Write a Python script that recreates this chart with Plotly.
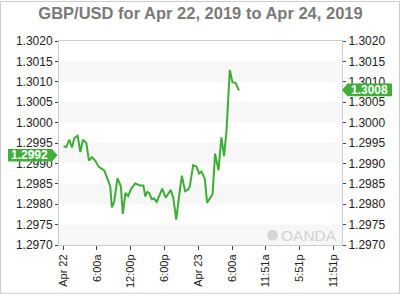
import plotly.graph_objects as go

# ---- data ----
times = [
    "2019-04-22 00:06", "2019-04-22 00:35", "2019-04-22 01:07", "2019-04-22 01:35",
    "2019-04-22 02:00", "2019-04-22 02:35", "2019-04-22 03:03", "2019-04-22 03:32",
    "2019-04-22 04:07", "2019-04-22 04:35", "2019-04-22 05:07", "2019-04-22 05:42",
    "2019-04-22 06:17", "2019-04-22 06:53", "2019-04-22 07:17", "2019-04-22 07:52",
    "2019-04-22 08:21", "2019-04-22 08:39", "2019-04-22 09:03", "2019-04-22 09:38",
    "2019-04-22 10:14", "2019-04-22 10:35", "2019-04-22 11:03", "2019-04-22 11:31",
    "2019-04-22 12:00", "2019-04-22 12:45", "2019-04-22 13:38", "2019-04-22 14:13",
    "2019-04-22 14:34", "2019-04-22 14:55", "2019-04-22 15:16", "2019-04-22 15:42",
    "2019-04-22 16:06", "2019-04-22 16:35", "2019-04-22 17:02", "2019-04-22 17:34",
    "2019-04-22 18:10", "2019-04-22 19:03", "2019-04-22 19:31", "2019-04-22 20:02",
    "2019-04-22 20:34", "2019-04-22 21:02", "2019-04-22 21:37", "2019-04-22 22:09",
    "2019-04-22 22:27", "2019-04-22 23:02", "2019-04-22 23:38", "2019-04-23 00:05",
    "2019-04-23 00:31", "2019-04-23 01:06", "2019-04-23 01:30", "2019-04-23 02:28",
    "2019-04-23 02:55", "2019-04-23 03:31", "2019-04-23 04:02", "2019-04-23 04:30",
    "2019-04-23 04:55", "2019-04-23 05:31", "2019-04-23 05:59", "2019-04-23 06:34",
    "2019-04-23 07:08",
]
prices = [
    1.29942, 1.29940, 1.29958, 1.29939,
    1.29962, 1.29968, 1.29928, 1.29958,
    1.29950, 1.29907, 1.29915, 1.29907,
    1.29892, 1.29886, 1.29883, 1.29862,
    1.29844, 1.29792, 1.29806, 1.29864,
    1.29844, 1.29776, 1.29828, 1.29820,
    1.29836, 1.29851, 1.29846, 1.29846,
    1.29819, 1.29830, 1.29827, 1.29812,
    1.29814, 1.29806, 1.29822, 1.29838,
    1.29816, 1.29835, 1.29816, 1.29762,
    1.29822, 1.29870, 1.29832, 1.29836,
    1.29844, 1.29896, 1.29892, 1.29875,
    1.29880, 1.29862, 1.29804, 1.29824,
    1.29924, 1.29883, 1.29964, 1.29918,
    1.29976, 1.30129, 1.30099, 1.30097,
    1.30079,
]

x_tick_vals = [
    "2019-04-22 00:00", "2019-04-22 06:00", "2019-04-22 12:00", "2019-04-22 18:00",
    "2019-04-23 00:00", "2019-04-23 06:00", "2019-04-23 11:51", "2019-04-23 17:51",
    "2019-04-23 23:51",
]
x_tick_text = ["Apr 22", "6:00a", "12:00p", "6:00p", "Apr 23", "6:00a", "11:51a", "5:51p", "11:51p"]
x_range = ["2019-04-21 23:17", "2019-04-24 01:23"]

y_tick_vals = [1.2970, 1.2975, 1.2980, 1.2985, 1.2990, 1.2995, 1.3000, 1.3005, 1.3010, 1.3015, 1.3020]
y_range = [1.2970, 1.3020]
band_starts = [1.2970, 1.2980, 1.2990, 1.3000, 1.3010]
band_height = 0.0005

left_tag_value = 1.2992
right_tag_value = 1.3008

title_text = "GBP/USD for Apr 22, 2019 to Apr 24, 2019"
watermark_text = "OANDA"

# ---- styling ----
GREEN = "#3cae35"
TAG = "#3fae3a"
FONT = "Liberation Sans, Arial, sans-serif"
W, H = 400, 300
ML, MR, MT, MB = 59, 58, 41, 50
PW, PH = W - ML - MR, H - MT - MB

fig = go.Figure()
fig.add_trace(go.Scatter(
    x=times, y=prices, mode="lines",
    line=dict(color=GREEN, width=2), hoverinfo="skip", showlegend=False,
))
# invisible trace to carry the right-hand axis
fig.add_trace(go.Scatter(
    x=times, y=prices, mode="lines", yaxis="y2",
    line=dict(color="rgba(0,0,0,0)", width=0), hoverinfo="skip", showlegend=False,
))

shapes = []
for b in band_starts:
    shapes.append(dict(type="rect", xref="paper", yref="y", x0=0, x1=1, y0=b, y1=b + band_height,
                       fillcolor="#f7f7f7", line=dict(width=0), layer="below"))

# outer border of the whole chart
shapes.append(dict(type="rect", xref="paper", yref="paper",
                   x0=-(ML - 0.5) / PW, x1=1 + (MR - 0.5) / PW,
                   y0=-(MB - 0.5) / PH, y1=1 + (MT - 0.5) / PH,
                   line=dict(color="#cccccc", width=1), fillcolor="rgba(0,0,0,0)", layer="below"))

def px2paper(p):
    return (p - ML) / PW

def py2paper(p):
    return (H - MB - p) / PH

# watermark logo circle
shapes.append(dict(type="circle", xref="paper", yref="paper",
                   x0=px2paper(267), x1=px2paper(278), y0=py2paper(245.5), y1=py2paper(234.5),
                   fillcolor="#d6d6d6", line=dict(width=0), layer="above"))

# price tags (x in paper units, y in data units)
ypx = (y_range[1] - y_range[0]) / PH  # data units per pixel
hh = 6.5 * ypx

lx0, lx1, ltip = px2paper(8), px2paper(52), px2paper(57.5)
shapes.append(dict(type="path", xref="paper", yref="y",
                   path=f"M {lx0},{left_tag_value - hh} L {lx1},{left_tag_value - hh} L {ltip},{left_tag_value} "
                        f"L {lx1},{left_tag_value + hh} L {lx0},{left_tag_value + hh} Z",
                   fillcolor=TAG, line=dict(width=0), layer="above"))
rtip, rx0, rx1 = px2paper(342), px2paper(347.5), px2paper(392)
shapes.append(dict(type="path", xref="paper", yref="y",
                   path=f"M {rtip},{right_tag_value} L {rx0},{right_tag_value - hh} L {rx1},{right_tag_value - hh} "
                        f"L {rx1},{right_tag_value + hh} L {rx0},{right_tag_value + hh} Z",
                   fillcolor=TAG, line=dict(width=0), layer="above"))

annotations = [
    dict(xref="paper", yref="y", x=(lx0 + lx1) / 2, y=left_tag_value, text=f"{left_tag_value:.4f}",
         showarrow=False, font=dict(family=FONT, size=12, color="white", weight="bold"),
         xanchor="center", yanchor="middle"),
    dict(xref="paper", yref="y", x=(rx0 + rx1) / 2, y=right_tag_value, text=f"{right_tag_value:.4f}",
         showarrow=False, font=dict(family=FONT, size=12, color="white", weight="bold"),
         xanchor="center", yanchor="middle"),
    dict(xref="paper", yref="paper", x=px2paper(279), y=py2paper(240), text=watermark_text,
         showarrow=False, font=dict(family=FONT, size=15.5, color="#d2d2d2"),
         xanchor="left", yanchor="middle"),
]

fig.update_layout(
    width=W, height=H,
    margin=dict(l=ML, r=MR, t=MT, b=MB, pad=0),
    paper_bgcolor="white", plot_bgcolor="white",
    title=dict(text=title_text, x=0.5, xanchor="center", y=1 - 13.5 / H, yanchor="middle",
               xref="paper",
               font=dict(family=FONT, size=16.5, color="#7a7a7a", weight="bold")),
    xaxis=dict(type="date", range=x_range, tickvals=x_tick_vals, ticktext=x_tick_text,
               tickangle=-90, tickfont=dict(family=FONT, size=11, color="#222"),
               ticks="outside", ticklen=4, tickcolor="#444",
               showgrid=False, zeroline=False, showline=True, linecolor="#cccccc", mirror=True),
    yaxis=dict(range=y_range, tickvals=y_tick_vals, tickformat=".4f",
               tickfont=dict(family=FONT, size=12, color="#222"),
               ticks="outside", ticklen=3, tickcolor="#444",
               showgrid=False, zeroline=False, showline=True, linecolor="#cccccc"),
    yaxis2=dict(range=y_range, tickvals=y_tick_vals, tickformat=".4f", overlaying="y", side="right",
                tickfont=dict(family=FONT, size=12, color="#222"),
                ticks="outside", ticklen=3, tickcolor="#444",
                showgrid=False, zeroline=False, showline=True, linecolor="#cccccc"),
    shapes=shapes,
    annotations=annotations,
    showlegend=False,
)

fig.write_html("out.html")
